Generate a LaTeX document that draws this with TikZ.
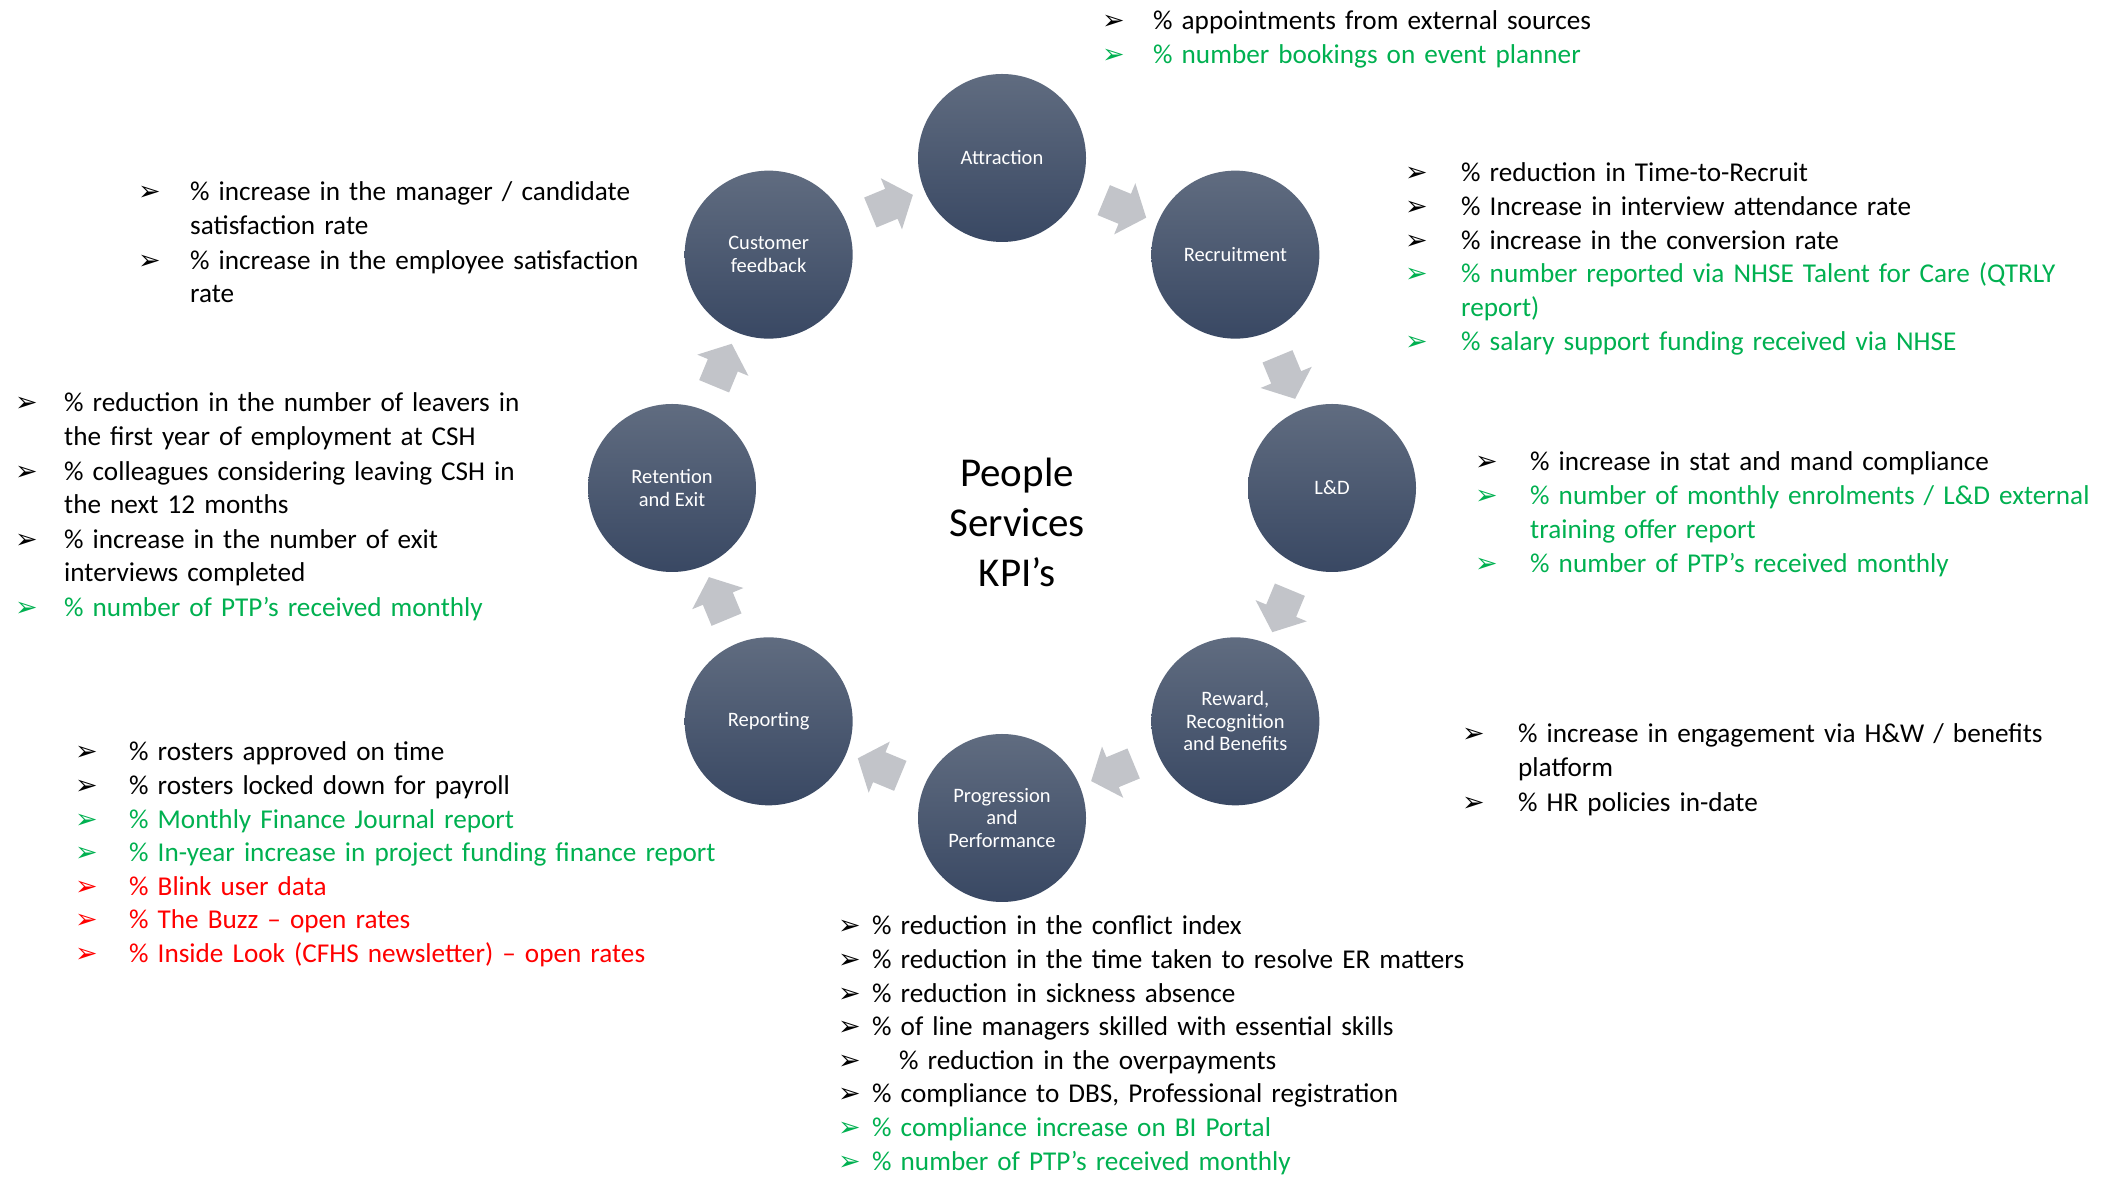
\documentclass[tikz,border=0pt]{standalone}
\usepackage{fontspec}
\setmainfont{Carlito}
\newfontfamily\dejavu{DejaVu Sans}
\usetikzlibrary{shapes.arrows,calc}

\definecolor{ringtop}{RGB}{96,108,128}
\definecolor{ringbot}{RGB}{57,72,99}
\definecolor{flowgray}{RGB}{194,196,201}
\definecolor{okgreen}{HTML}{00B050}
\definecolor{alert}{HTML}{FF0000}

\newlength{\kgap}
\newcommand{\bul}{{\dejavu\fontsize{27}{27}\selectfont ➢}}
\newcommand{\kpi}[2][black]{{\color{#1}\makebox[\kgap][l]{\bul}\begin{tabular}[t]{@{}l@{}}#2\end{tabular}}\par}

\begin{document}
\begin{tikzpicture}[x=1pt,y=1pt]
\tikzstyle{stage} = [circle, minimum size=168pt, inner sep=0pt, top color=ringtop, bottom color=ringbot, text=white, align=center, font=\fontsize{20.5}{22.5}\selectfont]
\tikzstyle{flow} = [single arrow, fill=flowgray, minimum height=46pt, inner xsep=0pt, inner ysep=16pt, single arrow head extend=11.5pt, single arrow tip angle=100, sloped, allow upside down]
\tikzstyle{kpis} = [anchor=base west, text width=720pt, align=left, inner sep=0pt, font=\fontsize{27.2}{33.6}\selectfont]
\useasboundingbox (0,0) rectangle (2104,1177);

\coordinate (hub) at (1002,689);
\node[stage] (att) at ($(hub)+(90:330)$) {Attraction};
\node[stage] (rec) at ($(hub)+(45:330)$) {Recruitment};
\node[stage] (ld) at ($(hub)+(0:330)$) {L\&D};
\node[stage] (rew) at ($(hub)+(-45:330)$) {Reward,\\Recognition\\and Benefits};
\node[stage] (pro) at ($(hub)+(-90:330)$) {Progression\\and\\Performance};
\node[stage] (rep) at ($(hub)+(-135:330)$) {Reporting};
\node[stage] (ret) at ($(hub)+(180:330)$) {Retention\\and Exit};
\node[stage] (cus) at ($(hub)+(135:330)$) {Customer\\feedback};

\foreach \a/\b in {att/rec, rec/ld, ld/rew, rew/pro, pro/rep, rep/ret, ret/cus, cus/att}
    \path (\a) -- node[flow] {} (\b);

\node[font=\fontsize{41}{50}\selectfont, align=center] (title) at (1017,655) {People\\Services\\KPI’s};

\node[kpis] (attkpi) at (1102,1147) {\setlength{\kgap}{51pt}%
    \kpi{\% appointments from external sources}
    \kpi[okgreen]{\% number bookings on event planner}};
\node[kpis] (reckpi) at (1405,995) {\setlength{\kgap}{56pt}%
    \kpi{\% reduction in Time-to-Recruit}
    \kpi{\% Increase in interview attendance rate}
    \kpi{\% increase in the conversion rate}
    \kpi[okgreen]{\% number reported via NHSE Talent for Care (QTRLY\\report)}
    \kpi[okgreen]{\% salary support funding received via NHSE}};
\node[kpis] (ldkpi) at (1475,706) {\setlength{\kgap}{55pt}%
    \kpi{\% increase in stat and mand compliance}
    \kpi[okgreen]{\% number of monthly enrolments / L\&D external\\training offer report}
    \kpi[okgreen]{\% number of PTP’s received monthly}};
\node[kpis] (rewkpi) at (1462,434) {\setlength{\kgap}{56pt}%
    \kpi{\% increase in engagement via H\&W / benefits\\platform}
    \kpi{\% HR policies in-date}};
\node[kpis] (prokpi) at (838,242) {\setlength{\kgap}{34pt}%
    \kpi{\% reduction in the conflict index}
    \kpi{\% reduction in the time taken to resolve ER matters}
    \kpi{\% reduction in sickness absence}
    \kpi{\% of line managers skilled with essential skills}
    \kpi{\hspace{27pt}\% reduction in the overpayments}
    \kpi{\% compliance to DBS, Professional registration}
    \kpi[okgreen]{\% compliance increase on BI Portal}
    \kpi[okgreen]{\% number of PTP’s received monthly}};
\node[kpis] (repkpi) at (75,416) {\setlength{\kgap}{54pt}%
    \kpi{\% rosters approved on time}
    \kpi{\% rosters locked down for payroll}
    \kpi[okgreen]{\% Monthly Finance Journal report}
    \kpi[okgreen]{\% In-year increase in project funding finance report}
    \kpi[alert]{\% Blink user data}
    \kpi[alert]{\% The Buzz – open rates}
    \kpi[alert]{\% Inside Look (CFHS newsletter) – open rates}};
\node[kpis] (retkpi) at (15,765) {\setlength{\kgap}{49pt}%
    \kpi{\% reduction in the number of leavers in\\the first year of employment at CSH}
    \kpi{\% colleagues considering leaving CSH in\\the next 12 months}
    \kpi{\% increase in the number of exit\\interviews completed}
    \kpi[okgreen]{\% number of PTP’s received monthly}};
\node[kpis] (cuskpi) at (138,976) {\setlength{\kgap}{52pt}%
    \kpi{\% increase in the manager / candidate\\satisfaction rate}
    \kpi{\% increase in the employee satisfaction\\rate}};
\end{tikzpicture}
\end{document}
